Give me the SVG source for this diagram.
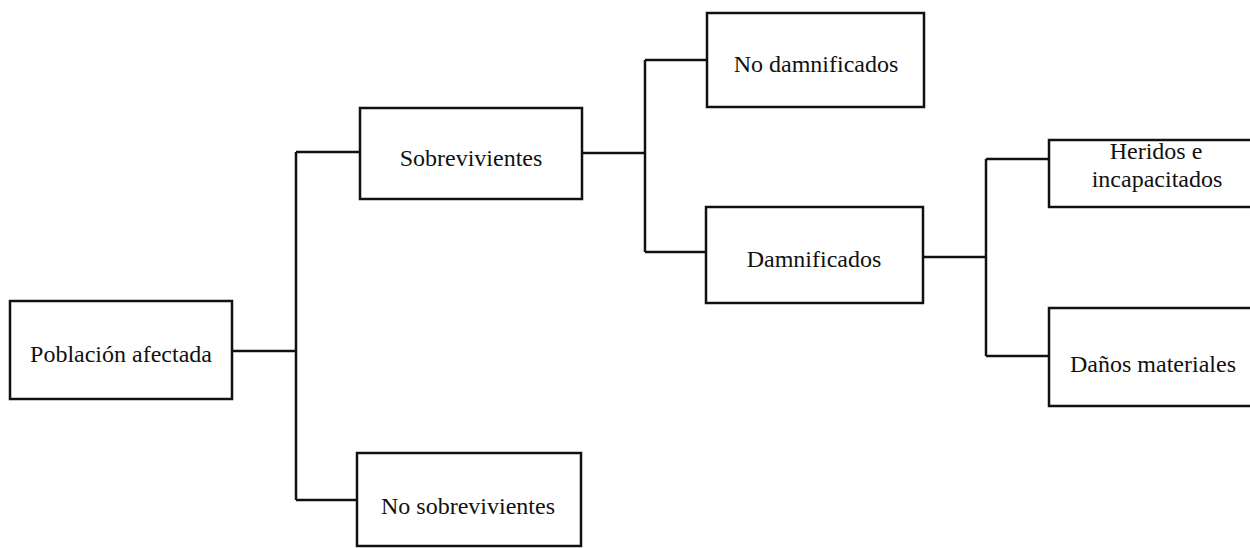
<svg xmlns="http://www.w3.org/2000/svg" width="1250" height="548" viewBox="0 0 1250 548">
<style>
.box{fill:#fff;stroke:#111;stroke-width:2.5}
.lbl{font-family:"Liberation Serif","Times New Roman",serif;font-size:24px;fill:#111;text-anchor:middle}
.con{fill:none;stroke:#111;stroke-width:2.5}
</style>
<rect width="1250" height="548" fill="#fff"/>
<g id="connectors">
<path class="con" d="M232 351H296M296 152V500M296 152H360M296 500H357"/>
<path class="con" d="M582 153H645M645 60V252M645 60H707M645 252H706"/>
<path class="con" d="M923 257H986M986 159V356M986 159H1049M986 356H1049"/>
</g>
<g id="poblacion"><rect class="box" x="10" y="301" width="222" height="98"/><text class="lbl" x="121" y="362">Población afectada</text></g>
<g id="sobrevivientes"><rect class="box" x="360" y="108" width="222" height="91"/><text class="lbl" x="471" y="166">Sobrevivientes</text></g>
<g id="no-sobrevivientes"><rect class="box" x="357" y="453" width="224" height="93"/><text class="lbl" x="468" y="514">No sobrevivientes</text></g>
<g id="no-damnificados"><rect class="box" x="707" y="13" width="217" height="94"/><text class="lbl" x="816" y="72">No damnificados</text></g>
<g id="damnificados"><rect class="box" x="706" y="207" width="217" height="96"/><text class="lbl" x="814" y="267">Damnificados</text></g>
<g id="heridos"><rect class="box" x="1049" y="140" width="205" height="67"/><text class="lbl" x="1156" y="159">Heridos e</text><text class="lbl" x="1157" y="187">incapacitados</text></g>
<g id="danos"><rect class="box" x="1049" y="308" width="205" height="98"/><text class="lbl" x="1153" y="372">Daños materiales</text></g>
</svg>
